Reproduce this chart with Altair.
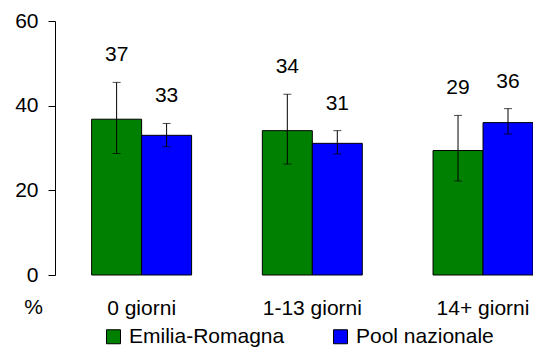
import altair as alt
import pandas as pd

categories = ["0 giorni", "1-13 giorni", "14+ giorni"]
series = ["Emilia-Romagna", "Pool nazionale"]
er_values = [36.8, 34.1, 29.4]
er_lower = [28.7, 26.2, 22.2]
er_upper = [45.5, 42.7, 37.7]
pool_values = [33.0, 31.1, 36.0]
pool_lower = [30.3, 28.6, 33.3]
pool_upper = [35.8, 34.1, 39.3]
colors = ["#008000", "#0000FF"]
y_ticks = [0, 20, 40, 60]

rows = []
for i, c in enumerate(categories):
    rows.append({"cat": c, "series": series[0], "value": er_values[i],
                 "lower": er_lower[i], "upper": er_upper[i]})
    rows.append({"cat": c, "series": series[1], "value": pool_values[i],
                 "lower": pool_lower[i], "upper": pool_upper[i]})
df = pd.DataFrame(rows)

FONT = "Liberation Sans"
FS = 21

x_enc = alt.X("cat:N", sort=categories,
              scale=alt.Scale(paddingInner=0.4144, paddingOuter=0.1073, align=1),
              axis=alt.Axis(title=None, labelAngle=0, ticks=False, tickSize=0, domain=False,
                            labelFontSize=FS, labelFont=FONT, labelColor="black",
                            labelPadding=22))
xoff = alt.XOffset("series:N", sort=series, scale=alt.Scale(paddingInner=0, paddingOuter=0))

base = alt.Chart(df)

bars = base.mark_bar(stroke="black", strokeWidth=1).encode(
    x=x_enc,
    xOffset=xoff,
    y=alt.Y("value:Q", scale=alt.Scale(domain=[0, 60], nice=False),
            axis=alt.Axis(values=y_ticks, grid=False, tickSize=7, tickColor="black",
                          domainColor="black", labelFontSize=FS, labelFont=FONT,
                          labelColor="black", labelPadding=10,
                          title="%", titleAngle=0, titleX=-22, titleY=286,
                          titleAlign="center", titleBaseline="middle",
                          titleFontSize=FS, titleFont=FONT, titleFontWeight="normal",
                          titleColor="black")),
    fill=alt.Fill("series:N", sort=series,
                  scale=alt.Scale(domain=series, range=colors),
                  legend=alt.Legend(title=None, orient="none", direction="horizontal",
                                    legendX=48, legendY=305,
                                    symbolType="square", symbolSize=196,
                                    symbolStrokeColor="black", symbolStrokeWidth=1,
                                    labelFontSize=FS, labelFont=FONT, labelColor="black",
                                    labelOffset=5, columnPadding=45)),
)

rules = base.mark_rule(color="black", strokeWidth=1).encode(
    x=alt.X("cat:N", sort=categories),
    xOffset=xoff,
    y="lower:Q",
    y2="upper:Q",
)

ticks_up = base.mark_tick(color="black", thickness=1, size=8, orient="horizontal").encode(
    x=alt.X("cat:N", sort=categories), xOffset=xoff, y="upper:Q")
ticks_lo = base.mark_tick(color="black", thickness=1, size=8, orient="horizontal").encode(
    x=alt.X("cat:N", sort=categories), xOffset=xoff, y="lower:Q")

labels = base.mark_text(fontSize=FS, font=FONT, color="black", baseline="middle",
                        dy=-27).encode(
    x=alt.X("cat:N", sort=categories),
    xOffset=xoff,
    y="upper:Q",
    text=alt.Text("value:Q", format=".0f"),
)

chart = alt.layer(bars, rules, ticks_up, ticks_lo, labels).properties(
    width=478, height=254,
    autosize=alt.AutoSizeParams(type="none"),
    padding={"left": 47, "top": 13, "right": 0, "bottom": 75},
).configure_view(stroke=None)

chart.save("out.html", embed_options={"renderer": "svg", "actions": False})
